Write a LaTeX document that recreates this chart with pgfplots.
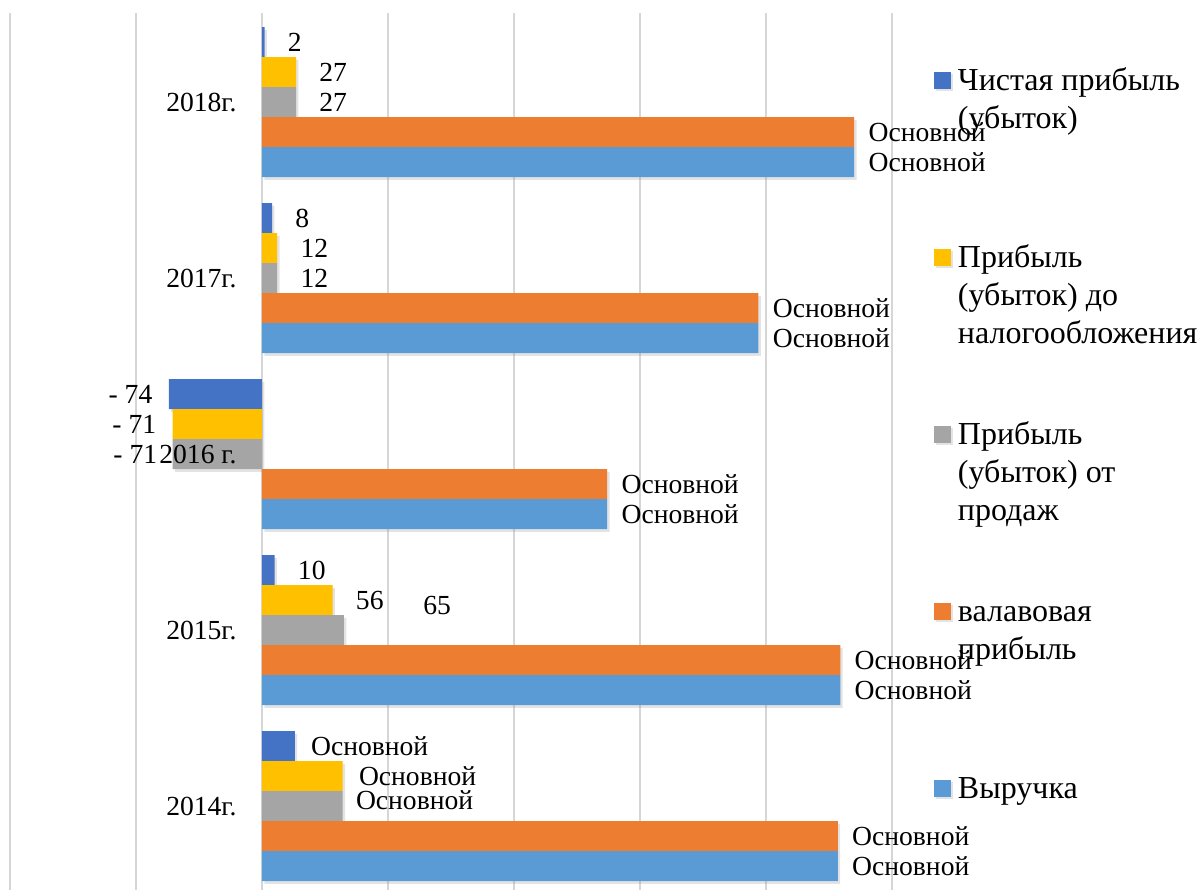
\documentclass[border=0pt]{standalone}
\usepackage{fontspec}
\setmainfont{Liberation Serif}
\usepackage{pgfplots}
\usepackage{pgfplotstable}
\pgfplotsset{compat=1.18}
\usetikzlibrary{shadows}

\definecolor{cBlue}{HTML}{5B9BD5}
\definecolor{cOrange}{HTML}{ED7D31}
\definecolor{cGray}{HTML}{A5A5A5}
\definecolor{cYellow}{HTML}{FFC000}
\definecolor{cDark}{HTML}{4472C4}

% y: 0=2014 ... 4=2018
\pgfplotstableread[col sep=comma]{
y,x
0,26
1,10
2,-74
3,8
4,2
}\netprofit
\pgfplotstableread[col sep=comma]{
y,x
0,64
1,56
2,-71
3,12
4,27
}\pretax
\pgfplotstableread[col sep=comma]{
y,x
0,64
1,65
2,-71
3,12
4,27
}\sales
\pgfplotstableread[col sep=comma]{
y,x
0,457
1,459
2,274
3,394
4,470
}\gross
\pgfplotstableread[col sep=comma]{
y,x
0,457
1,459
2,274
3,394
4,470
}\revenue

% data labels: dx, dy = offsets in pt (dy includes the bar shift)
\pgfplotstableread[col sep=comma]{
y,x,lab,dx,dy
0,26,Основной,8,30
1,10,10,11.5,30
3,8,8,11.5,30
4,2,2,11.5,30
0,64,Основной,8,15
1,56,56,11.5,15
3,12,12,11.5,15
4,27,27,11.5,15
0,64,Основной,6.5,3
1,65,65,39.5,12.5
3,12,12,11.5,0
4,27,27,11.5,0
0,457,Основной,7,-15
1,459,Основной,7,-15
2,274,Основной,7,-15
3,394,Основной,7,-15
4,470,Основной,7,-15
0,457,Основной,7,-30
1,459,Основной,7,-30
2,274,Основной,7,-30
3,394,Основной,7,-30
4,470,Основной,7,-30
}\lblpos
\pgfplotstableread[col sep=comma]{
y,x,lab,dx,dy
2,-74,- 74,-8,30
2,-71,- 71,-8,15
2,-71,- 71,-7.5,0
2,0,2016 г.,-12.5,0
0,0,2014г.,-12.5,0
1,0,2015г.,-12.5,0
3,0,2017г.,-12.5,0
4,0,2018г.,-12.5,0
}\lblneg

\pgfplotsset{
  mybar/.style={xbar, bar width=15pt, draw=none,
    drop shadow={shadow xshift=1.2pt, shadow yshift=-1.4pt, opacity=0.22}},
  lbl/.style={draw=none, mark=none, forget plot,
    point meta=explicit symbolic,
    nodes near coords={\pgfplotspointmeta},
    visualization depends on={\thisrow{dx}\as\dx},
    visualization depends on={\thisrow{dy}\as\dy},
    nodes near coords style={xshift=\dx, yshift=\dy, inner sep=0pt,
      text height=9.3pt, text depth=0pt, black,
      font=\fontsize{13.8}{16}\selectfont}},
}

\begin{document}
\begin{tikzpicture}
\path[use as bounding box] (-5pt,0pt) rectangle (595pt,445pt);
\begin{axis}[
    scale only axis,
    width=441pt, height=438.5pt,
    xmin=-200, xmax=500,
    ymin=-0.477, ymax=4.506,
    clip=false,
    axis line style={draw=none},
    major tick length=0pt,
    xtick={-200,-100,...,500},
    xticklabels={},
    ytick=\empty,
    xmajorgrids,
    major grid style={black!16, line width=0.75pt},
    legend image code/.code={\fill[#1] (0pt,0.75pt) rectangle (8.5pt,9.25pt);},
    legend cell align=left,
    legend style={draw=none, fill=none, at={(1.0476,0.9425)}, anchor=north west,
      inner sep=0pt, outer sep=0pt, row sep=3.2pt, column sep=3.5pt,
      cells={anchor=base west},
      nodes={inner sep=0pt, text height=13.3pt, text depth=72pt},
      font=\fontsize{16}{19}\selectfont},
]
\addplot[mybar, bar shift=30pt, fill=cDark] table[x=x, y=y] {\netprofit};
\addlegendentry{\parbox[t]{130pt}{\strut Чистая прибыль\\(убыток)}}
\addplot[mybar, bar shift=15pt, fill=cYellow] table[x=x, y=y] {\pretax};
\addlegendentry{\parbox[t]{130pt}{\strut Прибыль\\(убыток) до\\налогообложения}}
\addplot[mybar, bar shift=0pt, fill=cGray] table[x=x, y=y] {\sales};
\addlegendentry{\parbox[t]{130pt}{\strut Прибыль\\(убыток) от\\продаж}}
\addplot[mybar, bar shift=-15pt, fill=cOrange] table[x=x, y=y] {\gross};
\addlegendentry{\parbox[t]{130pt}{\strut валавовая\\прибыль}}
\addplot[mybar, bar shift=-30pt, fill=cBlue] table[x=x, y=y] {\revenue};
\addlegendentry{\parbox[t]{130pt}{\strut Выручка}}

\addplot[lbl, nodes near coords align={anchor=west}]
  table[x=x, y=y, meta=lab] {\lblpos};
\addplot[lbl, nodes near coords align={anchor=east}]
  table[x=x, y=y, meta=lab] {\lblneg};
\end{axis}
\end{tikzpicture}
\end{document}
